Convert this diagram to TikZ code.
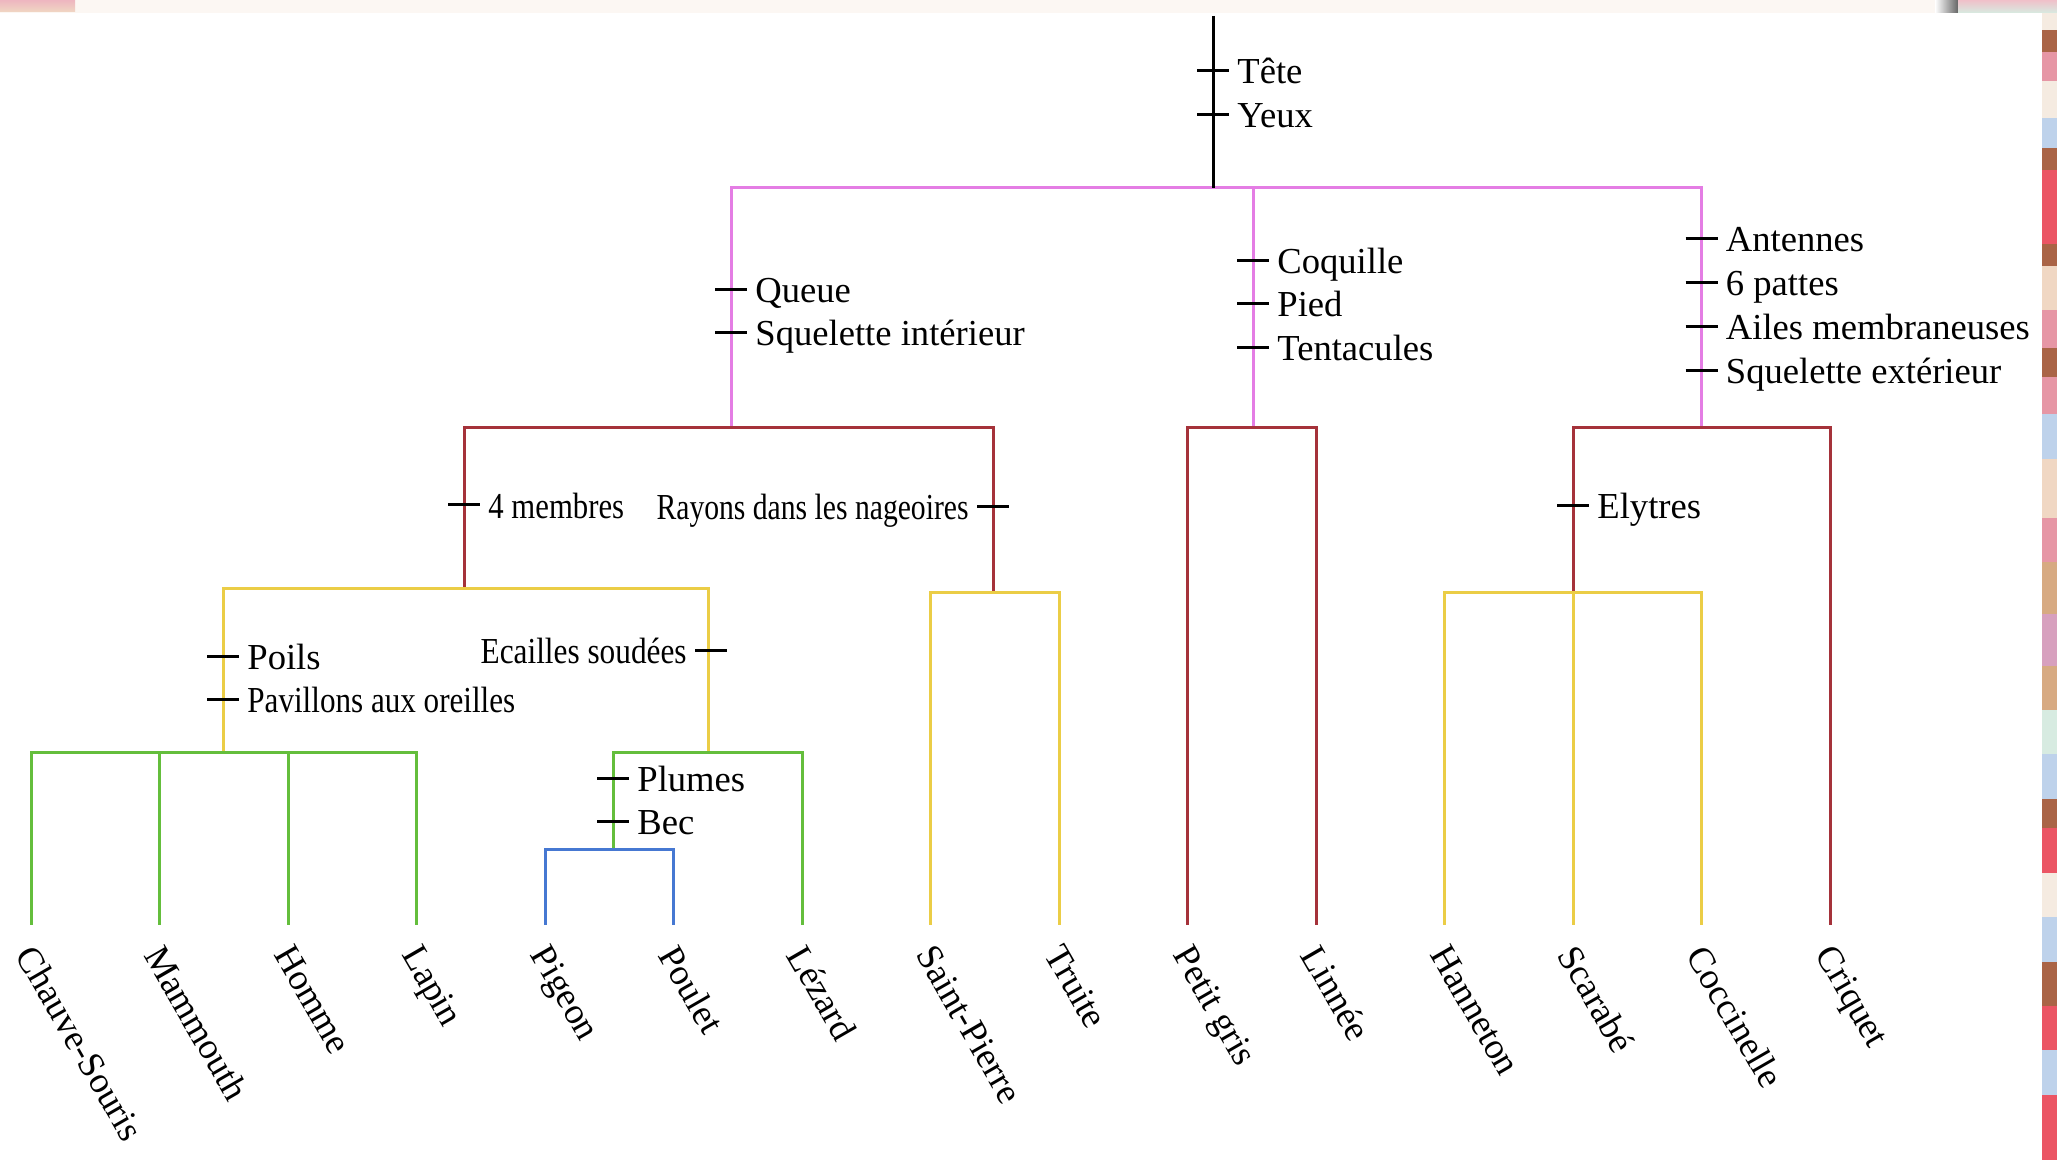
\documentclass[tikz,border=0pt]{standalone}
\usepackage{fontspec}
\usepackage{graphicx}
\setmainfont{Liberation Serif}
\definecolor{cPink}{RGB}{228,125,228}
\definecolor{cRed}{RGB}{165,50,58}
\definecolor{cYellow}{RGB}{235,205,70}
\definecolor{cGreen}{RGB}{100,190,60}
\definecolor{cBlue}{RGB}{70,120,210}
\definecolor{topbg}{RGB}{252,247,243}
\definecolor{sBeige}{RGB}{240,215,195}
\definecolor{sPink}{RGB}{230,150,165}
\definecolor{sRed}{RGB}{235,85,100}
\definecolor{sBrown}{RGB}{170,100,70}
\definecolor{sBlue}{RGB}{190,210,235}
\definecolor{sMint}{RGB}{215,235,225}
\definecolor{sTan}{RGB}{215,170,130}
\definecolor{sMauve}{RGB}{215,160,190}
\definecolor{sLight}{RGB}{245,235,225}
\tikzset{
  lbl/.style={inner sep=0pt, font=\fontsize{18.3}{22}\selectfont},
  leaflbl/.style={lbl, anchor=north west, rotate=-60},
  traitmark/.style={black, line width=1.5pt},
  br/.style={line width=1.5pt},
}
\newcommand\TraitR[4]{%
  \draw[traitmark] (#1-16,#2) -- (#1+16,#2);
  \node[lbl, anchor=base west] (#3) at (#1+24,#2+13) {#4};}
\newcommand\TraitL[4]{%
  \draw[traitmark] (#1-16,#2) -- (#1+16,#2);
  \node[lbl, anchor=base east] (#3) at (#1-24,#2+13) {#4};}
\begin{document}
\begin{tikzpicture}[x=0.5pt,y=-0.5pt]
\useasboundingbox (0,0) rectangle (2057,1160);
% background and screenshot borders
\fill[white] (0,0) rectangle (2057,1160);
\fill[topbg] (0,0) rectangle (2057,13);
\shade[top color=sPink!70, bottom color=sBeige] (0,0) rectangle (75,12);
\shade[left color=white, right color=gray!80!black] (1935,0) rectangle (1958,13);
\shade[top color=sPink!60, bottom color=sMint] (1958,0) rectangle (2057,13);
\foreach \ya/\yb/\c in {13/30/sLight, 30/52/sBrown, 52/81/sPink, 81/118/sLight, 118/148/sBlue,
  148/170/sBrown, 170/244/sRed, 244/266/sBrown, 266/310/sBeige, 310/348/sPink, 348/377/sBrown,
  377/414/sPink, 414/459/sBlue, 459/518/sBeige, 518/562/sPink, 562/614/sTan, 614/666/sMauve,
  666/710/sTan, 710/754/sMint, 754/799/sBlue, 799/828/sBrown, 828/873/sRed, 873/917/sLight,
  917/962/sBlue, 962/1006/sBrown, 1006/1050/sRed, 1050/1095/sBlue, 1095/1160/sRed}
  {\fill[\c] (2042,\ya) rectangle (2057,\yb);}

% leaves
\foreach \i/\x/\t in {1/31/Chauve-Souris, 2/159.5/Mammouth, 3/288/Homme, 4/416.5/Lapin,
  5/545/Pigeon, 6/673.5/Poulet, 7/802/Lézard, 8/930.5/Saint-Pierre, 9/1059/Truite,
  10/1187.5/Petit gris, 11/1316/Linnée, 12/1444.5/Hanneton, 13/1573/Scarabé,
  14/1701.5/Coccinelle, 15/1830/Criquet}{
  \coordinate (e\i) at (\x,925);
  \node[leaflbl] (leaf\i) at (\x+6,942) {\t};
}

% junctions
\coordinate (top) at (1213,16);
\coordinate (jA) at (1213,188);
\coordinate (jV) at (731,428);
\coordinate (jM) at (1253,428);
\coordinate (jI) at (1701.5,428);
\coordinate (jT) at (464,588);
\coordinate (jF) at (993,592);
\coordinate (jE) at (1573,592);
\coordinate (jP) at (223,752);
\coordinate (jS) at (708,752);
\coordinate (jB) at (613,849);

% connectors
\draw[br, cPink] (jA) -| (jV) (jA) -| (jM) (jA) -| (jI);
\draw[br, black] (top) -- (jA);
\draw[br, cRed] (jV) -| (jT) (jV) -| (jF);
\draw[br, cRed] (jM) -| (e10) (jM) -| (e11);
\draw[br, cRed] (jI) -| (jE) (jI) -| (e15);
\draw[br, cYellow] (jT) -| (jP) (jT) -| (jS);
\draw[br, cYellow] (jF) -| (e8) (jF) -| (e9);
\draw[br, cYellow] (jE) -| (e12) (jE) -| (e13) (jE) -| (e14);
\draw[br, cGreen] (jP) -| (e1) (jP) -| (e2) (jP) -| (e3) (jP) -| (e4);
\draw[br, cGreen] (jS) -| (jB) (jS) -| (e7);
\draw[br, cBlue] (jB) -| (e5) (jB) -| (e6);

% characters
\TraitR{1213}{71}{tTete}{Tête}
\TraitR{1213}{115}{tYeux}{Yeux}
\TraitR{731}{290}{tQueue}{Queue}
\TraitR{731}{333}{tSqInt}{Squelette intérieur}
\TraitR{1253}{261}{tCoq}{Coquille}
\TraitR{1253}{304}{tPied}{Pied}
\TraitR{1253}{348}{tTent}{Tentacules}
\TraitR{1701.5}{239}{tAnt}{Antennes}
\TraitR{1701.5}{283}{tPattes}{6 pattes}
\TraitR{1701.5}{327}{tAiles}{Ailes membraneuses}
\TraitR{1701.5}{371}{tSqExt}{Squelette extérieur}
\TraitR{464}{505}{tMemb}{\scalebox{0.84}[1]{4 membres}}
\TraitL{993}{507}{tRayons}{\scalebox{0.81}[1]{Rayons dans les nageoires}}
\TraitR{1573}{506}{tElyt}{Elytres}
\TraitR{223}{656}{tPoils}{Poils}
\TraitR{223}{699}{tPav}{\scalebox{0.85}[1]{Pavillons aux oreilles}}
\TraitL{711}{650}{tEcail}{\scalebox{0.855}[1]{Ecailles soudées}}
\TraitR{613}{778}{tPlumes}{Plumes}
\TraitR{613}{821}{tBec}{Bec}
\end{tikzpicture}
\end{document}
